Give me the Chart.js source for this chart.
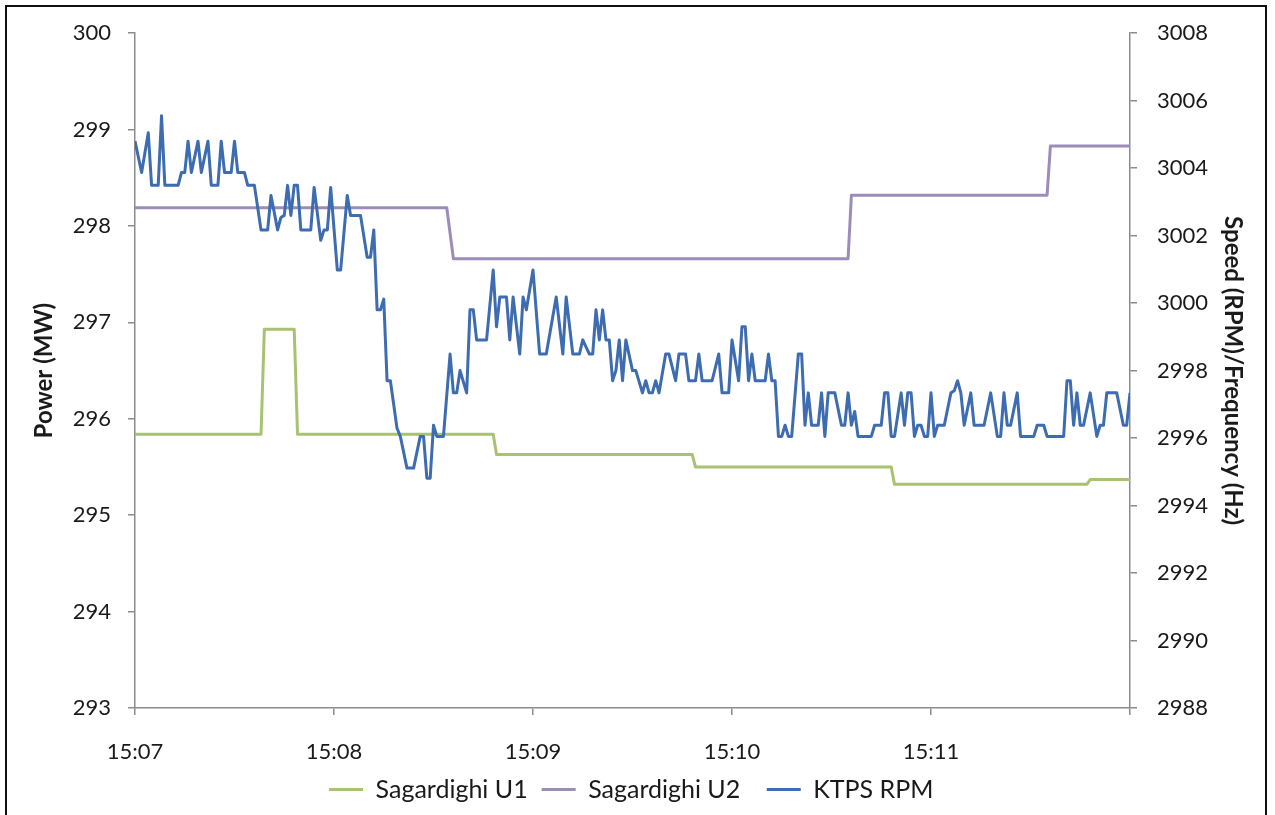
<!DOCTYPE html>
<html>
<head>
<meta charset="utf-8">
<script src="https://cdn.jsdelivr.net/npm/chart.js@4.4.1/dist/chart.umd.min.js"></script>
<style>
html, body { margin: 0; padding: 0; background: #fff; overflow: hidden; }
#wrap { position: relative; width: 1275px; height: 815px; }
#frame { position: absolute; left: 5px; top: 5px; width: 1258px; height: 840px; border: 2px solid #111; pointer-events: none; }
</style>
</head>
<body>
<div id="wrap">
  <canvas id="speedChart" width="1275" height="815"></canvas>
  <div id="frame"></div>
</div>
<script>
// x values are seconds after 15:07
var timeLabels = ['15:07', '15:08', '15:09', '15:10', '15:11'];

var u1Seconds = [0, 38, 39, 48, 49, 108, 109, 168, 169, 228, 229, 287, 288, 300];
var u1Power = [295.84, 295.84, 296.93, 296.93, 295.84, 295.84, 295.63, 295.63, 295.50, 295.50, 295.32, 295.32, 295.37, 295.37];

var u2Seconds = [0, 94, 96, 215, 216, 275, 276, 300];
var u2Power = [298.19, 298.19, 297.66, 297.66, 298.32, 298.32, 298.83, 298.83];

var rpmSeconds = [
  0, 2, 4, 5, 7, 8, 9, 13, 14, 15,
  16, 17, 19, 20, 22, 23, 25, 26, 27, 29,
  30, 31, 33, 34, 36, 38, 40, 41, 43, 44,
  45, 46, 47, 48, 49, 50, 53, 54, 56, 57,
  58, 59, 61, 62, 64, 65, 68, 70, 71, 72,
  73, 74, 75, 76, 77, 79, 80, 82, 84, 86,
  87, 88, 89, 90, 91, 93, 95, 96, 97, 98,
  100, 101, 102, 103, 106, 108, 109, 110, 112, 113,
  114, 116, 117, 118, 120, 122, 124, 127, 129, 130,
  132, 134, 135, 137, 138, 139, 140, 141, 142, 143,
  144, 145, 146, 147, 148, 150, 151, 153, 154, 155,
  156, 157, 158, 160, 161, 163, 164, 166, 167, 169,
  170, 171, 174, 176, 177, 179, 180, 182, 183, 184,
  185, 186, 187, 190, 191, 192, 193, 194, 195, 196,
  197, 198, 200, 201, 202, 203, 204, 206, 207, 208,
  209, 211, 213, 214, 215, 216, 217, 218, 222, 223,
  225, 226, 227, 228, 229, 231, 232, 233, 234, 235,
  236, 237, 238, 239, 240, 241, 242, 244, 246, 247,
  248, 249, 250, 252, 253, 256, 258, 260, 261, 262,
  263, 264, 266, 267, 271, 272, 274, 275, 280, 281,
  282, 283, 284, 285, 286, 288, 290, 291, 292, 293,
  296, 298, 299, 300
];
var rpmSpeed = [
  3004.8, 3003.87, 3005.05, 3003.49, 3003.49, 3005.55, 3003.49, 3003.49, 3003.87, 3003.87,
  3004.8, 3003.87, 3004.8, 3003.87, 3004.8, 3003.49, 3003.49, 3004.8, 3003.87, 3003.87,
  3004.8, 3003.87, 3003.87, 3003.49, 3003.49, 3002.17, 3002.17, 3003.19, 3002.17, 3002.54,
  3002.6, 3003.49, 3002.6, 3003.49, 3003.49, 3002.17, 3002.17, 3003.43, 3001.86, 3002.17,
  3002.17, 3003.43, 3000.98, 3000.98, 3003.19, 3002.6, 3002.6, 3001.36, 3001.36, 3002.17,
  2999.8, 2999.8, 3000.12, 2997.7, 2997.7, 2996.29, 2996.05, 2995.11, 2995.11, 2996.05,
  2996.05, 2994.81, 2994.81, 2996.38, 2996.05, 2996.05, 2998.49, 2997.34, 2997.34, 2998.0,
  2997.34, 2999.8, 2999.8, 2998.91, 2998.91, 3000.98, 2999.3, 3000.18, 3000.18, 2998.91,
  3000.18, 2998.49, 3000.18, 2999.8, 3000.98, 2998.49, 2998.49, 3000.18, 2998.49, 3000.18,
  2998.49, 2998.49, 2998.91, 2998.49, 2998.49, 2999.8, 2998.91, 2999.8, 2998.91, 2998.91,
  2997.7, 2998.0, 2998.91, 2997.7, 2998.91, 2998.0, 2998.0, 2997.34, 2997.7, 2997.34,
  2997.34, 2997.7, 2997.34, 2998.49, 2998.49, 2997.7, 2998.49, 2998.49, 2997.7, 2997.7,
  2998.49, 2997.7, 2997.7, 2998.49, 2997.34, 2997.34, 2998.91, 2997.7, 2999.3, 2999.3,
  2997.7, 2998.49, 2997.7, 2997.7, 2998.49, 2997.7, 2997.7, 2996.05, 2996.05, 2996.38,
  2996.05, 2996.05, 2998.49, 2998.49, 2996.38, 2997.34, 2996.38, 2996.38, 2997.34, 2996.05,
  2997.34, 2997.34, 2996.38, 2996.38, 2997.34, 2996.38, 2996.79, 2996.05, 2996.05, 2996.38,
  2996.38, 2997.34, 2997.34, 2996.05, 2996.05, 2997.34, 2996.38, 2997.34, 2997.34, 2996.05,
  2996.38, 2996.38, 2996.05, 2996.05, 2997.34, 2996.05, 2996.38, 2996.38, 2997.34, 2997.4,
  2997.7, 2997.34, 2996.38, 2997.34, 2996.38, 2996.38, 2997.34, 2996.05, 2996.05, 2997.34,
  2996.38, 2996.38, 2997.34, 2996.05, 2996.05, 2996.38, 2996.38, 2996.05, 2996.05, 2997.7,
  2997.7, 2996.38, 2997.34, 2996.38, 2996.38, 2997.34, 2996.05, 2996.38, 2996.38, 2997.34,
  2997.34, 2996.38, 2996.38, 2997.34
];

function toPoints(xs, ys) {
  return xs.map(function (x, i) { return { x: x, y: ys[i] }; });
}

var axisGray = '#8c8c8c';
var textColor = '#1a1a1a';
var tickFont = { family: 'Lato', size: 22 };
var legendFont = { family: 'Lato', size: 25 };
var titleFont = { family: 'Lato', size: 24, weight: 'bold' };

var ctx = document.getElementById('speedChart').getContext('2d');

var speedChart = new Chart(ctx, {
  type: 'line',
  data: {
    datasets: [{
      label: 'Sagardighi U1',
      data: toPoints(u1Seconds, u1Power),
      borderColor: '#a9c272',
      borderWidth: 3,
      yAxisID: 'y',
      order: 2
    }, {
      label: 'Sagardighi U2',
      data: toPoints(u2Seconds, u2Power),
      borderColor: '#9b8db8',
      borderWidth: 3,
      yAxisID: 'y',
      order: 1
    }, {
      label: 'KTPS RPM',
      data: toPoints(rpmSeconds, rpmSpeed),
      borderColor: '#3d6cb0',
      borderWidth: 3,
      yAxisID: 'y1',
      order: 0
    }]
  },
  options: {
    responsive: false,
    animation: false,
    elements: {
      point: { radius: 0 },
      line: { tension: 0, borderJoinStyle: 'round' }
    },
    layout: { padding: { left: 8, right: 8, top: 30, bottom: 3 } },
    plugins: {
      tooltip: { enabled: false },
      legend: {
        position: 'bottom',
        labels: {
          usePointStyle: true,
          pointStyle: 'line',
          pointStyleWidth: 34,
          padding: 14,
          font: legendFont,
          color: textColor,
          sort: function (a, b) { return a.datasetIndex - b.datasetIndex; },
          generateLabels: function (chart) {
            var items = Chart.defaults.plugins.legend.labels.generateLabels(chart);
            items.forEach(function (item, i) {
              if (i < items.length - 1) item.text = item.text + '\u2002';
            });
            return items;
          }
        }
      }
    },
    scales: {
      x: {
        type: 'linear',
        min: 0,
        max: 300,
        grid: { drawOnChartArea: false, tickLength: 7, color: axisGray, lineWidth: 1.5 },
        border: { color: axisGray, width: 1.5 },
        ticks: {
          stepSize: 60,
          autoSkip: false,
          maxRotation: 0,
          padding: 24,
          font: tickFont,
          color: textColor,
          callback: function (v) { return timeLabels[v / 60] || ''; }
        },
        afterFit: function (s) { s.height = 55; }
      },
      y: {
        position: 'left',
        min: 293,
        max: 300,
        grid: { drawOnChartArea: false, tickLength: 7, color: axisGray, lineWidth: 1.5 },
        border: { color: axisGray, width: 1.5 },
        ticks: { stepSize: 1, padding: 17, font: tickFont, color: textColor },
        title: { display: true, text: 'Power (MW)', font: titleFont, color: textColor, padding: { top: 22 } },
        afterFit: function (s) { s.width = 127; }
      },
      y1: {
        position: 'right',
        min: 2988,
        max: 3008,
        grid: { drawOnChartArea: false, tickLength: 7, color: axisGray, lineWidth: 1.5 },
        border: { color: axisGray, width: 1.5 },
        ticks: {
          stepSize: 2,
          padding: 20,
          font: tickFont,
          color: textColor,
          callback: function (v) { return String(v); }
        },
        title: { display: true, text: 'Speed (RPM)/Frequency (Hz)', font: titleFont, color: textColor, padding: { top: 20 } },
        afterFit: function (s) { s.width = 137; }
      }
    }
  }
});
</script>
</body>
</html>
